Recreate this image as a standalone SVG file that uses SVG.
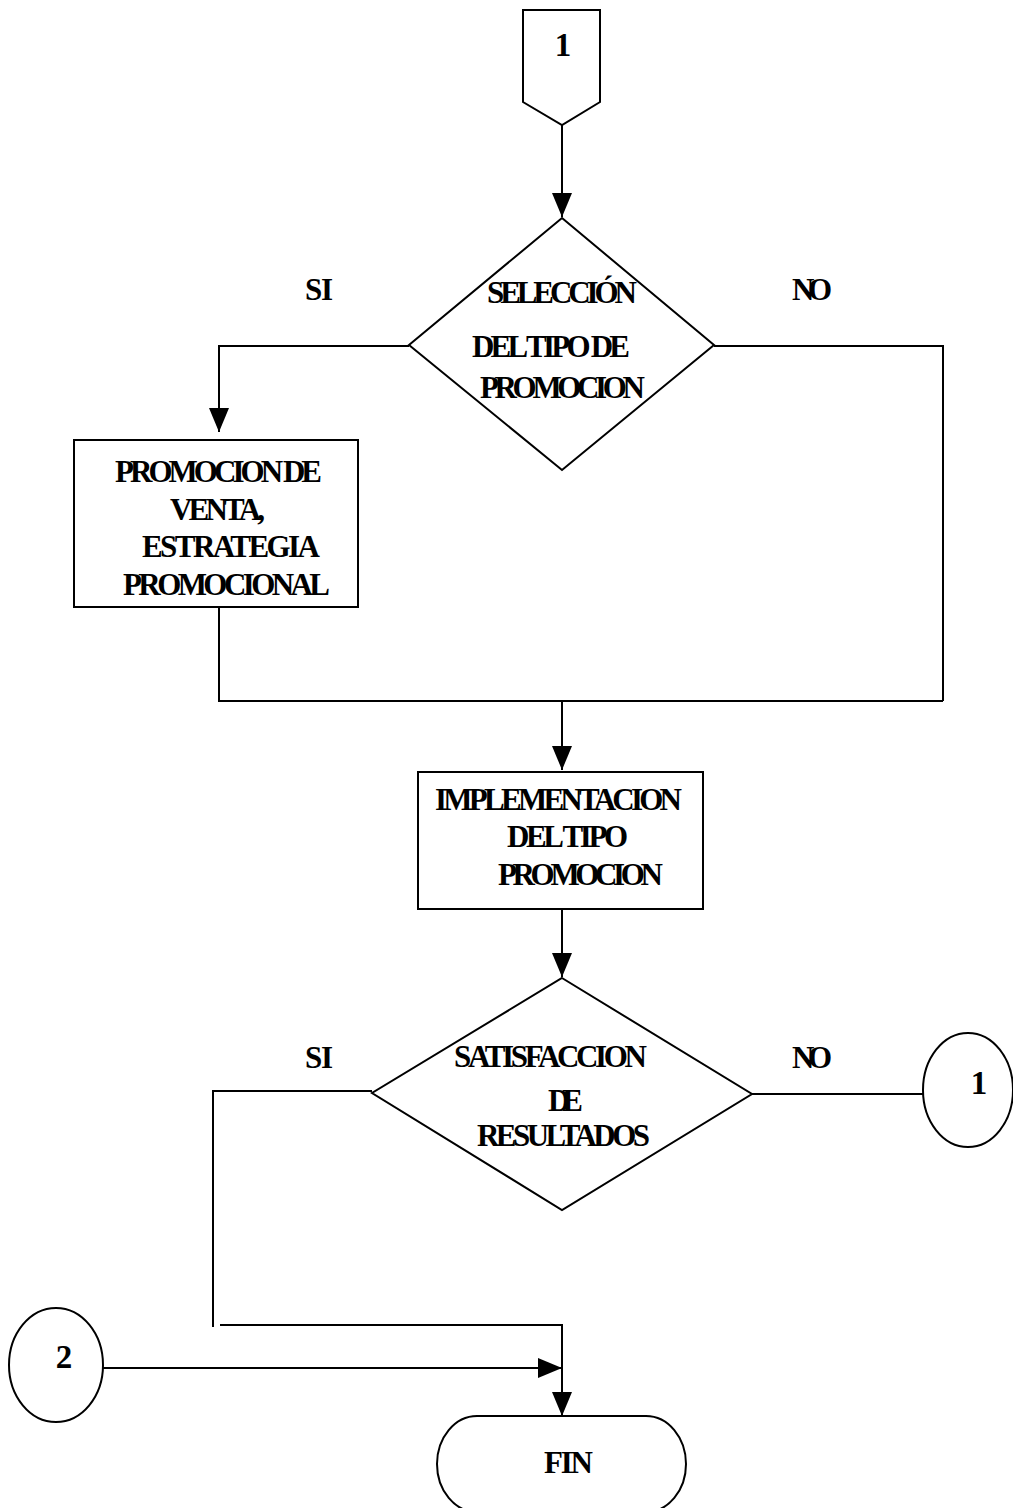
<svg xmlns="http://www.w3.org/2000/svg" width="1013" height="1508" viewBox="0 0 1013 1508">
  <defs>
    <marker id="arrow" viewBox="0 0 24 20" refX="24" refY="10" markerWidth="24" markerHeight="20" markerUnits="userSpaceOnUse" orient="auto">
      <path d="M0,0 L24,10 L0,20 Z" fill="#000"/>
    </marker>
    <style>
      .shape { fill: #fff; stroke: #000; stroke-width: 2; }
      .line { fill: none; stroke: #000; stroke-width: 2; }
      .lbl { font-family: "Liberation Serif", "Times New Roman", serif; font-weight: bold; font-size: 31px; fill: #000; }
      .num { font-size: 33px; }
    </style>
  </defs>
  <rect width="1013" height="1508" fill="#fff"/>

  <g id="connectors">
    <!-- off-page connector 1 to first decision -->
    <path class="line" d="M562,125 V217" marker-end="url(#arrow)"/>
    <!-- SI branch -->
    <path class="line" d="M409,346 H219 V432" marker-end="url(#arrow)"/>
    <!-- NO branch -->
    <path class="line" d="M714,346 H943 V701"/>
    <!-- join -->
    <path class="line" d="M219,608 V701 H943"/>
    <path class="line" d="M562,701 V770" marker-end="url(#arrow)"/>
    <path class="line" d="M562,909 V977" marker-end="url(#arrow)"/>
    <!-- second decision, SI -->
    <path class="line" d="M372,1091 H213 V1327"/>
    <path class="line" d="M220,1325 H562 V1416" marker-end="url(#arrow)"/>
    <!-- second decision, NO -->
    <path class="line" d="M752,1094 H923"/>
    <!-- connector 2 -->
    <path class="line" d="M103,1368 H562" marker-end="url(#arrow)"/>
  </g>

  <g id="start-connector">
    <path class="shape" d="M523,10 H600 V102 L562,125 L523,102 Z"/>
    <text class="lbl num" x="563" y="56" text-anchor="middle">1</text>
  </g>

  <g id="decision-tipo">
    <path class="shape" d="M562,218 L714,345 L562,470 L409,345 Z"/>
    <text class="lbl" x="487" y="303" textLength="150" lengthAdjust="spacing">SELECCIÓN</text>
    <text class="lbl" x="472" y="357" textLength="158" lengthAdjust="spacing">DEL TIPO DE</text>
    <text class="lbl" x="480" y="398" textLength="165" lengthAdjust="spacing">PROMOCION</text>
  </g>

  <g id="label-si-1"><text class="lbl" x="305" y="300" textLength="28" lengthAdjust="spacing">SI</text></g>
  <g id="label-no-1"><text class="lbl" x="792" y="300" textLength="40" lengthAdjust="spacing">NO</text></g>

  <g id="promocion-venta">
    <rect class="shape" x="74" y="440" width="284" height="167"/>
    <text class="lbl" x="115" y="482" textLength="207" lengthAdjust="spacing">PROMOCION DE</text>
    <text class="lbl" x="170" y="520" textLength="95" lengthAdjust="spacing">VENTA,</text>
    <text class="lbl" x="142" y="557" textLength="178" lengthAdjust="spacing">ESTRATEGIA</text>
    <text class="lbl" x="123" y="595" textLength="207" lengthAdjust="spacing">PROMOCIONAL</text>
  </g>

  <g id="implementacion">
    <rect class="shape" x="418" y="772" width="285" height="137"/>
    <text class="lbl" x="435" y="810" textLength="247" lengthAdjust="spacing">IMPLEMENTACION</text>
    <text class="lbl" x="507" y="847" textLength="121" lengthAdjust="spacing">DEL TIPO</text>
    <text class="lbl" x="498" y="885" textLength="165" lengthAdjust="spacing">PROMOCION</text>
  </g>

  <g id="decision-satisfaccion">
    <path class="shape" d="M562,978 L752,1094 L562,1210 L372,1093 Z"/>
    <text class="lbl" x="454" y="1067" textLength="193" lengthAdjust="spacing">SATISFACCION</text>
    <text class="lbl" x="548" y="1111" textLength="35" lengthAdjust="spacing">DE</text>
    <text class="lbl" x="477" y="1146" textLength="173" lengthAdjust="spacing">RESULTADOS</text>
  </g>

  <g id="label-si-2"><text class="lbl" x="305" y="1068" textLength="28" lengthAdjust="spacing">SI</text></g>
  <g id="label-no-2"><text class="lbl" x="792" y="1068" textLength="40" lengthAdjust="spacing">NO</text></g>

  <g id="connector-1">
    <ellipse class="shape" cx="968" cy="1090" rx="45" ry="57"/>
    <text class="lbl num" x="979" y="1094" text-anchor="middle">1</text>
  </g>

  <g id="connector-2">
    <ellipse class="shape" cx="56" cy="1365" rx="47" ry="57"/>
    <text class="lbl num" x="64" y="1368" text-anchor="middle">2</text>
  </g>

  <g id="fin">
    <rect class="shape" x="437" y="1416" width="249" height="96" rx="40" ry="48"/>
    <text class="lbl" x="544" y="1473" textLength="49" lengthAdjust="spacing">FIN</text>
  </g>
</svg>
